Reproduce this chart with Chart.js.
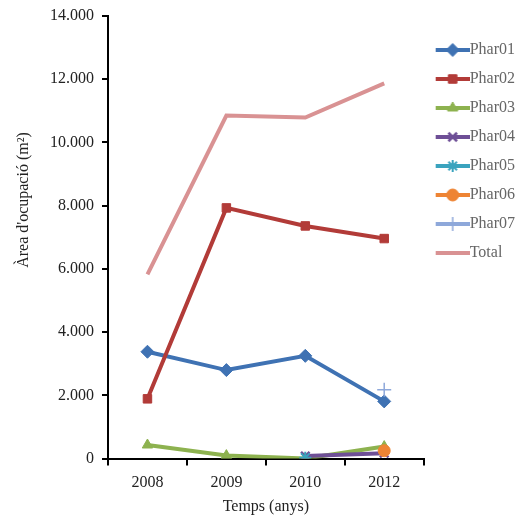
<!DOCTYPE html>
<html>
<head>
<meta charset="utf-8">
<script src="https://cdn.jsdelivr.net/npm/chart.js@4/dist/chart.umd.min.js"></script>
<style>
  html, body { margin: 0; padding: 0; background: #fff; }
  #wrap { width: 528px; height: 518px; }
</style>
</head>
<body>
<div id="wrap"><canvas id="c"></canvas></div>
<script>
const years = ["2008", "2009", "2010", "2012"];
const phar01 = [3380, 2800, 3250, 1810];
const phar02 = [1890, 7930, 7360, 6960];
const phar03 = [430, 95, 0, 380];
const phar04 = [null, null, 80, 170];
const phar05 = [null, null, 30, null];
const phar06 = [null, null, null, 250];
const phar07 = [null, null, null, 2180];
const total = [5830, 10850, 10790, 11870];
const yTicks = [0, 2000, 4000, 6000, 8000, 10000, 12000, 14000];

const serif = "'Liberation Serif', 'Times New Roman', serif";

function series(label, data, color, style, radius, bw, order) {
  return {
    label: label,
    data: data,
    borderColor: color,
    backgroundColor: color,
    borderWidth: 4,
    pointStyle: style,
    pointRadius: radius,
    pointHoverRadius: radius,
    pointBorderWidth: bw,
    pointBackgroundColor: color,
    pointBorderColor: color,
    tension: 0,
    spanGaps: false,
    order: order, // later series drawn on top, like the original
  };
}

const datasets = [
  series("Phar01", phar01, "#3F72B3", "rectRot", 6.5, 1, 8),
  series("Phar02", phar02, "#B23B38", "rect", 6, 1, 7),
  series("Phar03", phar03, "#8DB24F", "triangle", 6, 1, 6),
  series("Phar04", phar04, "#6E4F96", "crossRot", 6, 2.5, 5),
  series("Phar05", phar05, "#3AA3BE", "star", 6, 2, 4),
  series("Phar06", phar06, "#EE8434", "circle", 6, 1, 3),
  series("Phar07", phar07, "#8EA8DA", "cross", 7, 1.5, 2),
  series("Total", total, "#D99293", false, 0, 0, 1),
];

// legend swatch: short line with the marker in the middle,
// the canvas is wider on the left so the line ends right at the text
function swatch(ds) {
  const cv = document.createElement("canvas");
  cv.width = 41;
  cv.height = 16;
  const g = cv.getContext("2d");
  g.strokeStyle = ds.borderColor;
  g.fillStyle = ds.borderColor;
  g.lineWidth = 4;
  g.beginPath();
  g.moveTo(7, 8);
  g.lineTo(41, 8);
  g.stroke();
  if (ds.pointStyle) {
    g.lineWidth = ds.pointBorderWidth;
    Chart.helpers.drawPoint(g, {
      pointStyle: ds.pointStyle,
      radius: ds.pointRadius,
      rotation: 0,
      borderWidth: ds.pointBorderWidth,
    }, 24, 8);
  }
  return cv;
}

const yTitle = {
  id: "yTitle",
  afterDraw(chart) {
    const ctx = chart.ctx;
    ctx.save();
    ctx.translate(24, 200);
    ctx.rotate(-Math.PI / 2);
    ctx.font = "16px " + serif;
    ctx.fillStyle = "#222";
    ctx.textAlign = "center";
    ctx.textBaseline = "middle";
    ctx.fillText("Àrea d'ocupació (m²)", 0, 0);
    ctx.restore();
  },
};

new Chart(document.getElementById("c"), {
  type: "line",
  data: { labels: years, datasets: datasets },
  plugins: [yTitle],
  options: {
    responsive: true,
    maintainAspectRatio: false,
    animation: false,
    layout: { padding: { top: 2, left: 42, right: 3, bottom: 2 } },
    plugins: {
      tooltip: { enabled: false },
      legend: {
        position: "right",
        align: "start",
        title: {
          display: true,
          text: " ",
          font: { size: 10 },
          padding: { top: 15, bottom: 0 },
        },
        labels: {
          usePointStyle: true,
          pointStyleWidth: 25,
          padding: 13,
          color: "#222",
          font: { family: serif, size: 16 },
          generateLabels(chart) {
            return chart.data.datasets.map((ds, i) => ({
              text: ds.label,
              pointStyle: swatch(ds),
              fillStyle: ds.borderColor,
              strokeStyle: ds.borderColor,
              lineWidth: 0,
              hidden: false,
              datasetIndex: i,
            }));
          },
        },
      },
    },
    scales: {
      x: {
        offset: true,
        grid: {
          offset: true,
          drawOnChartArea: false,
          tickLength: 7,
          color: "#000",
          lineWidth: 2,
        },
        border: { color: "#000", width: 2 },
        ticks: { color: "#222", font: { family: serif, size: 16 }, padding: 8 },
        title: {
          display: true,
          text: "Temps (anys)",
          color: "#222",
          font: { family: serif, size: 16 },
          padding: { top: -4, bottom: 0 },
        },
      },
      y: {
        min: 0,
        max: 14000,
        afterBuildTicks(scale) {
          scale.ticks = yTicks.map((v) => ({ value: v }));
        },
        grid: {
          drawOnChartArea: false,
          tickLength: 6,
          color: "#000",
          lineWidth: 2,
        },
        border: { color: "#000", width: 2 },
        ticks: {
          color: "#222",
          font: { family: serif, size: 16, lineHeight: 1 },
          padding: 8,
          callback: (v) => (v === 0 ? "0" : v.toLocaleString("de-DE")),
        },
      },
    },
  },
});
</script>
</body>
</html>
